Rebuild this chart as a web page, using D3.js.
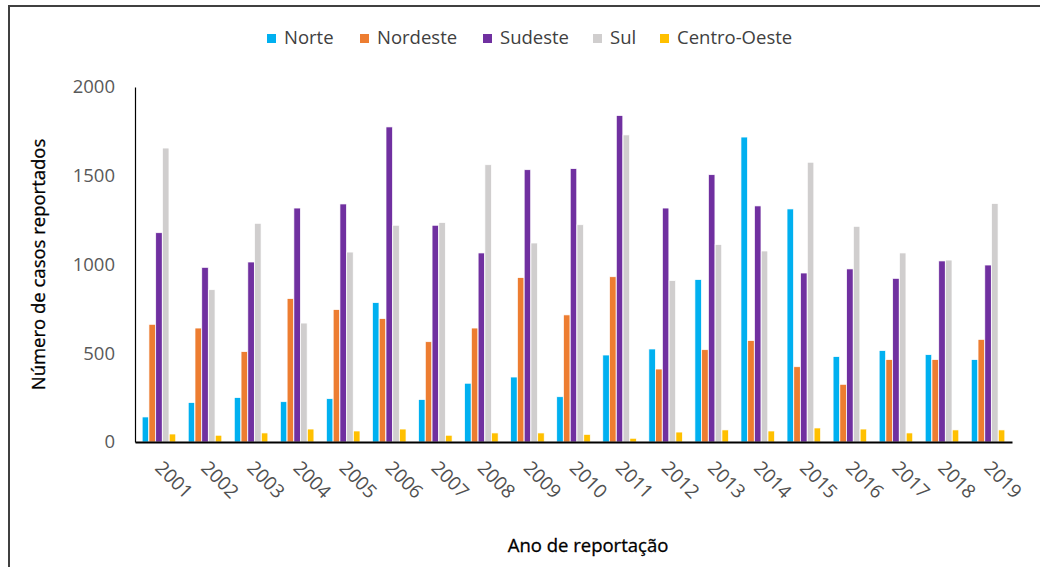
<!DOCTYPE html>
<html>
<head>
<meta charset="utf-8">
<script src="https://cdn.jsdelivr.net/npm/d3@7"></script>
<style>
  body { margin: 0; background: #fff; }
  svg text { font-family: "Open Sans", "DejaVu Sans", sans-serif; }
</style>
</head>
<body>
<div id="chart"></div>
<script>
'use strict';

var years = ["2001","2002","2003","2004","2005","2006","2007","2008","2009","2010",
             "2011","2012","2013","2014","2015","2016","2017","2018","2019"];
var regions = ["Norte", "Nordeste", "Sudeste", "Sul", "Centro-Oeste"];

var norte      = [141, 222, 250, 227, 244, 785, 239, 331, 366, 255, 490, 524, 915, 1718, 1313, 481, 515, 492, 464];
var nordeste   = [663, 642, 509, 808, 746, 695, 565, 642, 926, 716, 931, 411, 520, 571, 424, 325, 464, 464, 578];
var sudeste    = [1179, 984, 1014, 1318, 1341, 1775, 1221, 1065, 1534, 1540, 1839, 1318, 1506, 1330, 952, 975, 922, 1020, 997];
var sul        = [1656, 858, 1232, 670, 1070, 1221, 1236, 1562, 1121, 1224, 1730, 909, 1112, 1076, 1576, 1215, 1065, 1025, 1343];
var centroOeste = [45, 38, 51, 73, 62, 73, 38, 51, 51, 43, 21, 56, 68, 62, 79, 73, 51, 68, 68];

var yTicks = [0, 500, 1000, 1500, 2000];
var colors = ["#00b0f0", "#ed7d31", "#7030a0", "#d0cece", "#ffc000"];

var series = [norte, nordeste, sudeste, sul, centroOeste];
var data = years.map(function (y, i) {
    return { year: y, values: series.map(function (s) { return s[i]; }) };
});

var width = 1040, height = 567;
var margin = {top: 87, right: 28, bottom: 125, left: 135};

var svg = d3.select("#chart").append("svg")
    .attr("width", width)
    .attr("height", height);

// outer frame (only top and left edges show in the picture)
svg.append("path")
    .attr("d", "M9,567 V6 H1040")
    .attr("fill", "none")
    .attr("stroke", "#404040")
    .attr("stroke-width", 2);

var x0 = d3.scaleBand()
    .domain(years)
    .range([margin.left, width - margin.right])
    .paddingInner(0.26)
    .paddingOuter(0.15);

var x1 = d3.scaleBand()
    .domain(d3.range(regions.length))
    .range([0, x0.bandwidth()])
    .padding(0.04);

var y = d3.scaleLinear()
    .domain([0, 2000])
    .range([height - margin.bottom, margin.top]);

var g = svg.selectAll("g.year")
    .data(data)
    .enter()
    .append("g")
    .attr("class", "year")
    .attr("transform", function (d) { return "translate(" + x0(d.year) + ",0)"; });

g.selectAll("rect")
    .data(function (d) { return d.values; })
    .enter()
    .append("rect")
    .attr("x", function (d, i) { return x1(i); })
    .attr("y", function (d) { return y(d); })
    .attr("width", x1.bandwidth())
    .attr("height", function (d) { return y(0) - y(d); })
    .attr("fill", function (d, i) { return colors[i]; })
    .attr("stroke", "#fff")
    .attr("stroke-width", 0.7);

// y axis
var yAxis = svg.append("g")
    .attr("transform", "translate(" + margin.left + ",0)")
    .call(d3.axisLeft(y).tickValues(yTicks).tickSize(0).tickPadding(20).tickFormat(d3.format("d")));
yAxis.select(".domain").attr("stroke", "#000").attr("stroke-width", 1.2);
yAxis.selectAll("text")
    .attr("fill", "#595959")
    .style("font-size", "18.5px");

// x axis
var xAxis = svg.append("g")
    .attr("transform", "translate(0," + y(0) + ")")
    .call(d3.axisBottom(x0).tickSize(0));
xAxis.select(".domain").attr("stroke", "#000").attr("stroke-width", 2.2);
xAxis.selectAll("text")
    .attr("fill", "#505050")
    .style("font-size", "19px")
    .attr("text-anchor", "start")
    .attr("dy", null)
    .attr("y", 0)
    .attr("transform", "translate(-5,27) rotate(45)");

// axis titles
svg.append("text")
    .attr("transform", "translate(45," + ((y(0) + y(2000)) / 2) + ") rotate(-90)")
    .attr("text-anchor", "middle")
    .attr("fill", "#000")
    .attr("stroke", "#000")
    .attr("stroke-width", 0.3)
    .style("font-size", "18.5px")
    .text("Número de casos reportados");

svg.append("text")
    .attr("x", 588)
    .attr("y", 552)
    .attr("text-anchor", "middle")
    .attr("fill", "#000")
    .attr("stroke", "#000")
    .attr("stroke-width", 0.3)
    .style("font-size", "18.5px")
    .text("Ano de reportação");

// legend
var legendX = [267, 360, 483, 593, 660];
var legend = svg.selectAll("g.legend")
    .data(regions)
    .enter()
    .append("g")
    .attr("class", "legend")
    .attr("transform", function (d, i) { return "translate(" + legendX[i] + ",34)"; });

legend.append("rect")
    .attr("width", 9)
    .attr("height", 9)
    .attr("fill", function (d, i) { return colors[i]; });

legend.append("text")
    .attr("x", 17)
    .attr("y", 10)
    .attr("fill", "#404040")
    .style("font-size", "18.5px")
    .text(function (d) { return d; });
</script>
</body>
</html>
